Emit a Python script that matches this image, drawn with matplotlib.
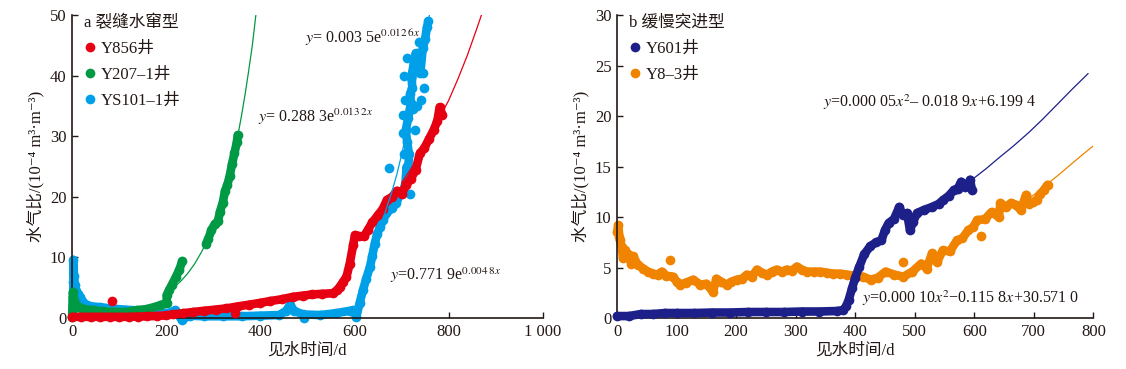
import numpy as np
import matplotlib
matplotlib.use("Agg")
import matplotlib.pyplot as plt
from matplotlib.lines import Line2D

plt.rcParams['font.family'] = ['Liberation Serif', 'Noto Sans CJK SC', 'DejaVu Sans']
plt.rcParams['mathtext.fontset'] = 'stix'
plt.rcParams['axes.unicode_minus'] = False

# ---- panel a: 裂缝水窜型 ----
red_x = [0, 20, 40, 60, 80, 100, 120, 140, 160, 180, 200, 215, 235, 257, 280, 305, 328, 350, 375, 399,
         420, 445, 469, 490, 510, 530, 554, 563, 569, 576, 583, 590, 597, 601, 610, 620, 628, 638, 650, 660,
         669, 680, 690, 700, 710, 720, 730, 739, 748, 758, 768, 776, 781, 787]
red_y = [0.2, 0.2, 0.2, 0.2, 0.2, 0.2, 0.2, 0.25, 0.3, 0.35, 0.45, 0.6, 0.8, 1.0, 1.2, 1.4, 1.6, 1.9, 2.2, 2.5,
         2.8, 3.1, 3.5, 3.7, 3.9, 4.0, 4.1, 4.6, 5.2, 6.0, 6.8, 9.0, 12.0, 13.7, 13.5, 13.5, 14.5, 15.8, 17.0, 18.0,
         19.5, 20.0, 21.0, 20.5, 22.0, 23.0, 24.5, 27.2, 28.0, 29.5, 31.0, 32.5, 34.8, 33.5]
red_out_x = [84, 347]
red_out_y = [2.8, 0.8]

green1_x = [0, 1, 2, 3, 5, 8, 13, 20, 30, 45, 65, 90, 116, 137, 160, 187, 201, 201, 206, 212, 220, 228, 234]
green1_y = [0.1, 2.0, 4.3, 3.5, 2.8, 2.2, 1.9, 1.6, 1.4, 1.3, 1.1, 1.0, 1.0, 1.3, 1.5, 2.1, 2.5, 3.8, 4.6, 5.5, 6.7, 8.0, 9.4]
green2_x = [285, 289, 296, 303, 310, 314, 320, 325, 330, 335, 340, 345, 350, 352]
green2_y = [12.3, 13.0, 14.5, 15.5, 16.0, 17.5, 19.0, 21.0, 22.0, 23.5, 25.5, 27.2, 29.0, 30.2]

blue_x = [2, 2, 3, 3, 4, 6, 9, 13, 17, 22, 31, 45, 60, 81, 110, 151, 187, 205, 219, 233, 250, 280, 320, 360,
          400, 440, 455, 463, 472, 490, 527, 560, 590, 597, 604, 611, 618, 625, 633, 638, 643, 648, 654, 661,
          668, 680, 689, 697, 703, 708, 711, 713, 716, 712, 709, 714, 720, 718, 723, 721, 726, 730, 736, 740,
          745, 750, 754, 757]
blue_y = [0.3, 3.0, 6.0, 9.6, 7.0, 5.5, 4.5, 3.9, 3.5, 2.8, 2.1, 1.9, 1.8, 1.6, 1.4, 1.2, 1.0, 0.8, 1.3, -0.3,
          0.4, 0.3, 0.3, 0.3, 0.4, 0.5, 1.2, 2.2, 1.2, 0.6, 0.5, 0.8, 1.2, 1.3, 0.2, 2.5, 4.6, 6.5, 8.5, 10.3,
          12.3, 13.8, 15.0, 16.2, 17.3, 18.2, 19.0, 20.5, 21.0, 22.0, 25.0, 23.0, 27.0, 29.0, 31.0, 33.0, 35.5, 37.0,
          38.0, 39.8, 42.0, 43.7, 41.0, 40.5, 44.5, 46.0, 48.0, 49.0]
blue_out_x = [673, 492, 704, 733, 748, 706, 703, 708, 705, 712, 738, 742, 745, 728, 725, 718]
blue_out_y = [24.7, 0.0, 30.5, 35.0, 38.0, 27.0, 33.5, 36.0, 40.0, 43.0, 45.5, 36.0, 40.5, 31.0, 34.5, 20.5]

# trend lines
red_fit_x = [700, 740, 780, 800, 820, 840, 860, 875, 885]
red_fit_y = [22.3, 27.0, 33.0, 35.9, 39.5, 43.4, 47.8, 51.2, 53.8]
green_fit_x = [215, 230, 245, 260, 275, 290, 305, 320, 330, 340, 350, 360, 368, 375, 383, 392]
green_fit_y = [5.0, 6.0, 7.3, 8.9, 10.9, 13.2, 16.1, 19.7, 22.4, 25.6, 29.2, 33.4, 37.1, 40.7, 45.0, 51.0]
blue_fit_x = [650, 665, 680, 690, 700, 710, 720, 730, 740, 748, 757, 762]
blue_fit_y = [14.4, 17.4, 21.0, 23.7, 26.9, 30.5, 34.6, 39.2, 44.5, 47.0, 48.6, 51.8]

# ---- panel b: 缓慢突进型 ----
navy_x = [0, 20, 40, 60, 80, 100, 130, 160, 190, 220, 250, 280, 310, 340, 370, 380, 385, 389, 395, 400,
          407, 415, 425, 435, 444, 450, 456, 465, 474, 480, 487, 492, 497, 504, 515, 529, 540, 548, 557, 566,
          572, 578, 585, 590, 593, 596]
navy_y = [0.2, 0.2, 0.4, 0.4, 0.5, 0.5, 0.5, 0.55, 0.55, 0.6, 0.6, 0.6, 0.65, 0.65, 0.7, 0.8, 1.2, 1.8, 3.0, 4.0,
          5.1, 6.3, 7.1, 7.5, 7.7, 8.7, 9.4, 9.8, 11.0, 10.2, 10.4, 8.7, 9.5, 10.4, 10.7, 11.0, 11.3, 11.7, 12.1, 12.7,
          12.8, 13.5, 13.0, 13.3, 13.7, 12.7]

orange_x = [0, 2, 4, 5, 8, 10, 13, 18, 24, 27, 35, 44, 52, 61, 68, 75, 83, 94, 100, 106, 115, 128, 140, 150,
            161, 167, 175, 184, 192, 201, 210, 218, 226, 235, 243, 252, 260, 268, 277, 285, 294, 302, 310, 319,
            330, 341, 352, 363, 375, 386, 398, 413, 426, 438, 451, 466, 481, 496, 511, 520, 529, 538, 547, 559,
            571, 580, 590, 598, 605, 618, 629, 641, 644, 653, 662, 670, 678, 687, 692, 699, 705, 711, 717, 723]
orange_y = [8.5, 9.2, 8.0, 7.7, 7.0, 5.9, 6.7, 6.3, 5.4, 6.1, 5.3, 4.9, 4.6, 4.4, 4.3, 4.6, 4.2, 4.1, 3.6, 3.3,
            3.5, 3.8, 3.3, 3.4, 2.6, 3.9, 3.6, 3.3, 3.6, 3.8, 3.9, 4.3, 4.1, 4.8, 4.5, 4.3, 4.6, 4.8, 4.6, 4.8,
            4.7, 5.1, 4.8, 4.6, 4.6, 4.6, 4.5, 4.4, 4.4, 4.3, 4.2, 4.1, 3.8, 4.0, 4.6, 4.3, 4.1, 4.6, 5.4, 4.9,
            6.4, 5.6, 6.7, 6.6, 7.7, 7.9, 8.7, 9.0, 9.7, 9.8, 10.5, 10.0, 11.4, 11.0, 11.4, 11.2, 10.7, 12.2, 11.3, 11.5,
            11.7, 12.3, 12.7, 13.2]
orange_out_x = [89, 481, 611]
orange_out_y = [5.8, 5.6, 8.1]

navy_fit_x = [560, 596, 620, 640, 665, 692, 715, 740, 765, 791]
navy_fit_y = [12.2, 13.7, 14.8, 15.8, 17.0, 18.4, 19.7, 21.2, 22.7, 24.2]
orange_fit_x = [640, 680, 700, 723, 740, 760, 780, 801]
orange_fit_y = [10.3, 11.4, 12.2, 13.3, 14.1, 15.1, 16.1, 17.1]

c_red = '#e60012'
c_green = '#009944'
c_blue = '#00a0e9'
c_navy = '#1d2088'
c_orange = '#f08300'
c_text = '#231815'

ms = 7.0   # marker size (pt)
lw_band = 6.2


def draw_series(ax, x, y, color, z):
    ax.plot(x, y, '-', color=color, lw=lw_band, solid_capstyle='round',
            solid_joinstyle='round', zorder=z, clip_on=False)
    ax.plot(x, y, 'o', color=color, ms=ms, mew=0, zorder=z, clip_on=False)


def draw_points(ax, x, y, color, z):
    ax.plot(x, y, 'o', color=color, ms=ms, mew=0, ls='none', zorder=z, clip_on=False)


def style_axes(ax):
    for s in ['top', 'right']:
        ax.spines[s].set_visible(False)
    for s in ['left', 'bottom']:
        ax.spines[s].set_linewidth(1.2)
        ax.spines[s].set_color(c_text)
    ax.tick_params(direction='in', length=4, width=1.0, labelsize=12, colors=c_text, pad=4)
    ax.set_xlabel('见水时间/d', fontsize=12, color=c_text, labelpad=2)
    ax.set_ylabel('水气比/(10⁻⁴ m³·m⁻³)', fontsize=12, color=c_text, labelpad=4)


fig = plt.figure(figsize=(11.26, 3.69), dpi=100)
ax1 = fig.add_axes([0.064, 0.138, 0.418, 0.821])
ax2 = fig.add_axes([0.548, 0.138, 0.423, 0.821])

# panel a
draw_series(ax1, blue_x, blue_y, c_blue, 2)
draw_points(ax1, blue_out_x, blue_out_y, c_blue, 2)
draw_series(ax1, green1_x, green1_y, c_green, 3)
draw_series(ax1, green2_x, green2_y, c_green, 3)
draw_series(ax1, red_x, red_y, c_red, 4)
draw_points(ax1, red_out_x, red_out_y, c_red, 4)
ax1.plot(red_fit_x, red_fit_y, color=c_red, lw=0.9, zorder=5)
ax1.plot(green_fit_x, green_fit_y, color=c_green, lw=0.9, zorder=5)
ax1.plot(blue_fit_x, blue_fit_y, color=c_blue, lw=0.9, zorder=5)

ax1.set_xlim(0, 1000)
ax1.set_ylim(0, 50)
ax1.set_xticks([0, 200, 400, 600, 800, 1000])
ax1.set_xticklabels(['0', '200', '400', '600', '800', '1 000'])
ax1.set_yticks([0, 10, 20, 30, 40, 50])
style_axes(ax1)

ax1.text(495, 46.2, '$y$= 0.003 5e$^{0.012\\,6x}$', fontsize=11.5, color=c_text, va='center')
ax1.text(395, 33.2, '$y$= 0.288 3e$^{0.013\\,2x}$', fontsize=11.5, color=c_text, va='center')
ax1.text(675, 7.1, '$y$=0.771 9e$^{0.004\\,8x}$', fontsize=11.5, color=c_text, va='center')

h1 = [Line2D([], [], marker='o', ls='none', color=c, ms=ms, mew=0) for c in (c_red, c_green, c_blue)]
leg1 = ax1.legend(h1, ['Y856井', 'Y207–1井', 'YS101–1井'], title='a 裂缝水窜型', loc='upper left',
                  bbox_to_anchor=(0.0, 1.04), frameon=False, fontsize=12, title_fontsize=12,
                  handlelength=0.7, handletextpad=0.3, labelspacing=0.6, alignment='left',
                  borderaxespad=0.3)
for t in leg1.get_texts():
    t.set_color(c_text)
leg1.get_title().set_color(c_text)

# panel b
draw_series(ax2, orange_x, orange_y, c_orange, 2)
draw_points(ax2, orange_out_x, orange_out_y, c_orange, 2)
draw_series(ax2, navy_x, navy_y, c_navy, 3)
ax2.plot(navy_fit_x, navy_fit_y, color=c_navy, lw=0.9, zorder=5)
ax2.plot(orange_fit_x, orange_fit_y, color=c_orange, lw=0.9, zorder=5)

ax2.set_xlim(0, 800)
ax2.set_ylim(0, 30)
ax2.set_xticks(np.arange(0, 801, 100))
ax2.set_yticks([0, 5, 10, 15, 20, 25, 30])
style_axes(ax2)

ax2.text(346, 21.4, '$y$=0.000 05$x^{2}$– 0.018 9$x$+6.199 4', fontsize=11.5, color=c_text, va='center')
ax2.text(412, 2.0, '$y$=0.000 10$x^{2}$−0.115 8$x$+30.571 0', fontsize=11.5, color=c_text, va='center')

h2 = [Line2D([], [], marker='o', ls='none', color=c, ms=ms, mew=0) for c in (c_navy, c_orange)]
leg2 = ax2.legend(h2, ['Y601井', 'Y8–3井'], title='b 缓慢突进型', loc='upper left',
                  bbox_to_anchor=(0.0, 1.04), frameon=False, fontsize=12, title_fontsize=12,
                  handlelength=0.7, handletextpad=0.3, labelspacing=0.6, alignment='left',
                  borderaxespad=0.3)
for t in leg2.get_texts():
    t.set_color(c_text)
leg2.get_title().set_color(c_text)

fig.savefig('out.png', dpi=100)
